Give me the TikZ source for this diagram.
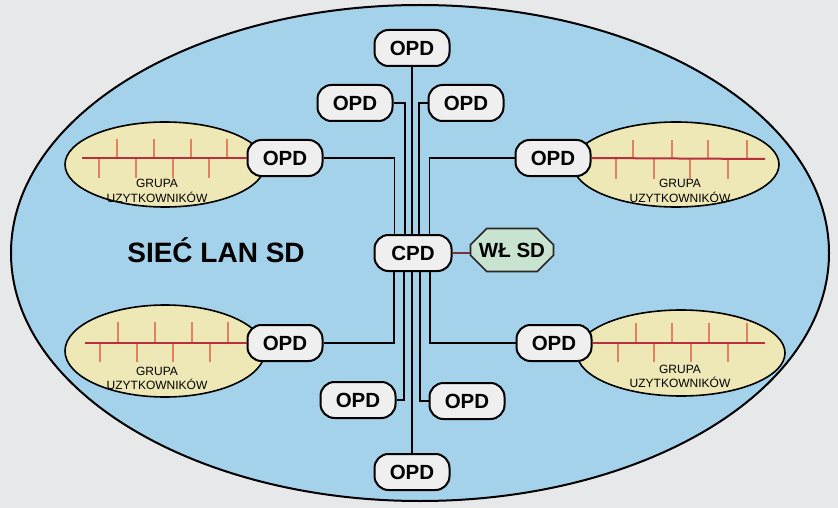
\documentclass[tikz,border=0pt]{standalone}
\usepackage{fontspec}
\setmainfont{Liberation Sans}
\usetikzlibrary{shapes.geometric,shapes.misc,calc}
\definecolor{bgc}{HTML}{E6E8EA}
\definecolor{lanblue}{HTML}{A5D2EB}
\definecolor{grpfill}{HTML}{EEE8B6}
\definecolor{boxfill}{HTML}{EFEFEF}
\definecolor{wlfill}{HTML}{C8E4D0}
\definecolor{busred}{HTML}{B8303F}
\definecolor{tickc}{HTML}{E38060}
\definecolor{linkred}{HTML}{7A3040}
\tikzset{
  opd/.style={draw=black, line width=2pt, fill=boxfill, rounded corners=14pt,
    minimum width=75pt, minimum height=36pt, inner sep=0pt,
    font=\fontsize{20.5}{20.5}\selectfont\bfseries},
  grp/.style={ellipse, draw=black, line width=1.6pt, fill=grpfill, inner sep=0pt},
  grptxt/.style={font=\fontsize{12}{12}\selectfont, inner sep=0pt},
  bus/.style={busred, line width=2pt},
  tick/.style={tickc, line width=1.4pt},
  wire/.style={black, line width=1.8pt},
}
\begin{document}
\begin{tikzpicture}[x=1pt,y=-1pt]
\fill[bgc] (0,0) rectangle (838,508);
\useasboundingbox (0,0) rectangle (838,508);
% big LAN ellipse
\node[ellipse, draw=black, line width=2pt, fill=lanblue, minimum width=818pt, minimum height=496pt, inner sep=0pt] (lan) at (420,253) {};
% user groups
\node[grp, minimum width=200pt, minimum height=85pt] (g1) at (165,164.5) {};
\node[grp, minimum width=206pt, minimum height=85pt] (g2) at (676,164.5) {};
\node[grp, minimum width=200pt, minimum height=92pt] (g3) at (165,351) {};
\node[grp, minimum width=208pt, minimum height=86pt] (g4) at (681,353) {};
\node[grptxt] (g1a) at (157,183) {GRUPA};
\node[grptxt] (g1b) at (157,197) {UZYTKOWNIKÓW};
\node[grptxt] (g2a) at (680,183) {GRUPA};
\node[grptxt] (g2b) at (680,197) {UZYTKOWNIKÓW};
\node[grptxt] (g3a) at (157,371) {GRUPA};
\node[grptxt] (g3b) at (157,384) {UZYTKOWNIKÓW};
\node[grptxt] (g4a) at (680,369) {GRUPA};
\node[grptxt] (g4b) at (680,382) {UZYTKOWNIKÓW};
% ticks
\foreach \x in {117,154,191,227} \draw[tick] (\x,139) -- (\x,158);
\foreach \x in {99,136,173,209} \draw[tick] (\x,158) -- (\x,178);
\foreach \x in {633,672,708,747} \draw[tick] (\x,140) -- (\x,159);
\foreach \x in {616,654,690,728} \draw[tick] (\x,159) -- (\x,179);
\foreach \x in {118,155,192,228} \draw[tick] (\x,322) -- (\x,343);
\foreach \x in {100,137,173,210} \draw[tick] (\x,343) -- (\x,362);
\foreach \x in {636,672,709,747} \draw[tick] (\x,323) -- (\x,343);
\foreach \x in {618,654,691,728} \draw[tick] (\x,343) -- (\x,362);
% label
\node[font=\fontsize{28}{28}\selectfont\bfseries, inner sep=0pt] (lbl) at (216,250) {SIEĆ LAN SD};
% OPD nodes
\node[opd] (t)  at (412,48) {OPD};
\node[opd] (ul) at (355,103) {OPD};
\node[opd] (ur) at (466,103) {OPD};
\node[opd] (lt) at (285,158) {OPD};
\node[opd] (rt) at (553,158) {OPD};
\node[opd, minimum width=77pt] (c) at (413,253) {CPD};
\node[chamfered rectangle, chamfered rectangle xsep=8pt, chamfered rectangle ysep=9pt, draw=black!85, line width=1.6pt, fill=wlfill, minimum width=83pt, minimum height=43pt, inner sep=0pt, font=\fontsize{20.5}{20.5}\selectfont\bfseries] (w) at (512,250) {WŁ SD};
\node[opd] (lb) at (285,343) {OPD};
\node[opd] (rb) at (554,343) {OPD};
\node[opd] (dl) at (358,400) {OPD};
\node[opd] (dr) at (467,401) {OPD};
\node[opd] (b)  at (412,472) {OPD};
% buses
\draw[bus] (82,158) -- (lt.west);
\draw[bus] (rt.east) -- (765,159);
\draw[bus] (85,343) -- (lb.west);
\draw[bus] (rb.east) -- (765,343);
% wires to CPD
\draw[wire] (t.south) -- ([xshift=-1pt]c.north);
\draw[wire] (ul.east) -| ([xshift=-8pt]c.north);
\draw[wire] (ur.west) -| ([xshift=6pt]c.north);
\draw[wire] (lt.east) -| ([xshift=-18.5pt]c.north);
\draw[wire] (rt.west) -| ([xshift=16.5pt]c.north);
\draw[wire] (b.north) -- (b.north |- c.south);
\draw[wire] (dl.east) -| ([xshift=-9pt]c.south);
\draw[wire] (dr.west) -| ([xshift=7pt]c.south);
\draw[wire] (lb.east) -| ([xshift=-19pt]c.south);
\draw[wire] (rb.west) -| ([xshift=17pt]c.south);
\draw[linkred, line width=1.8pt] (c.east) -- (c.east -| w.west);
\end{tikzpicture}
\end{document}
